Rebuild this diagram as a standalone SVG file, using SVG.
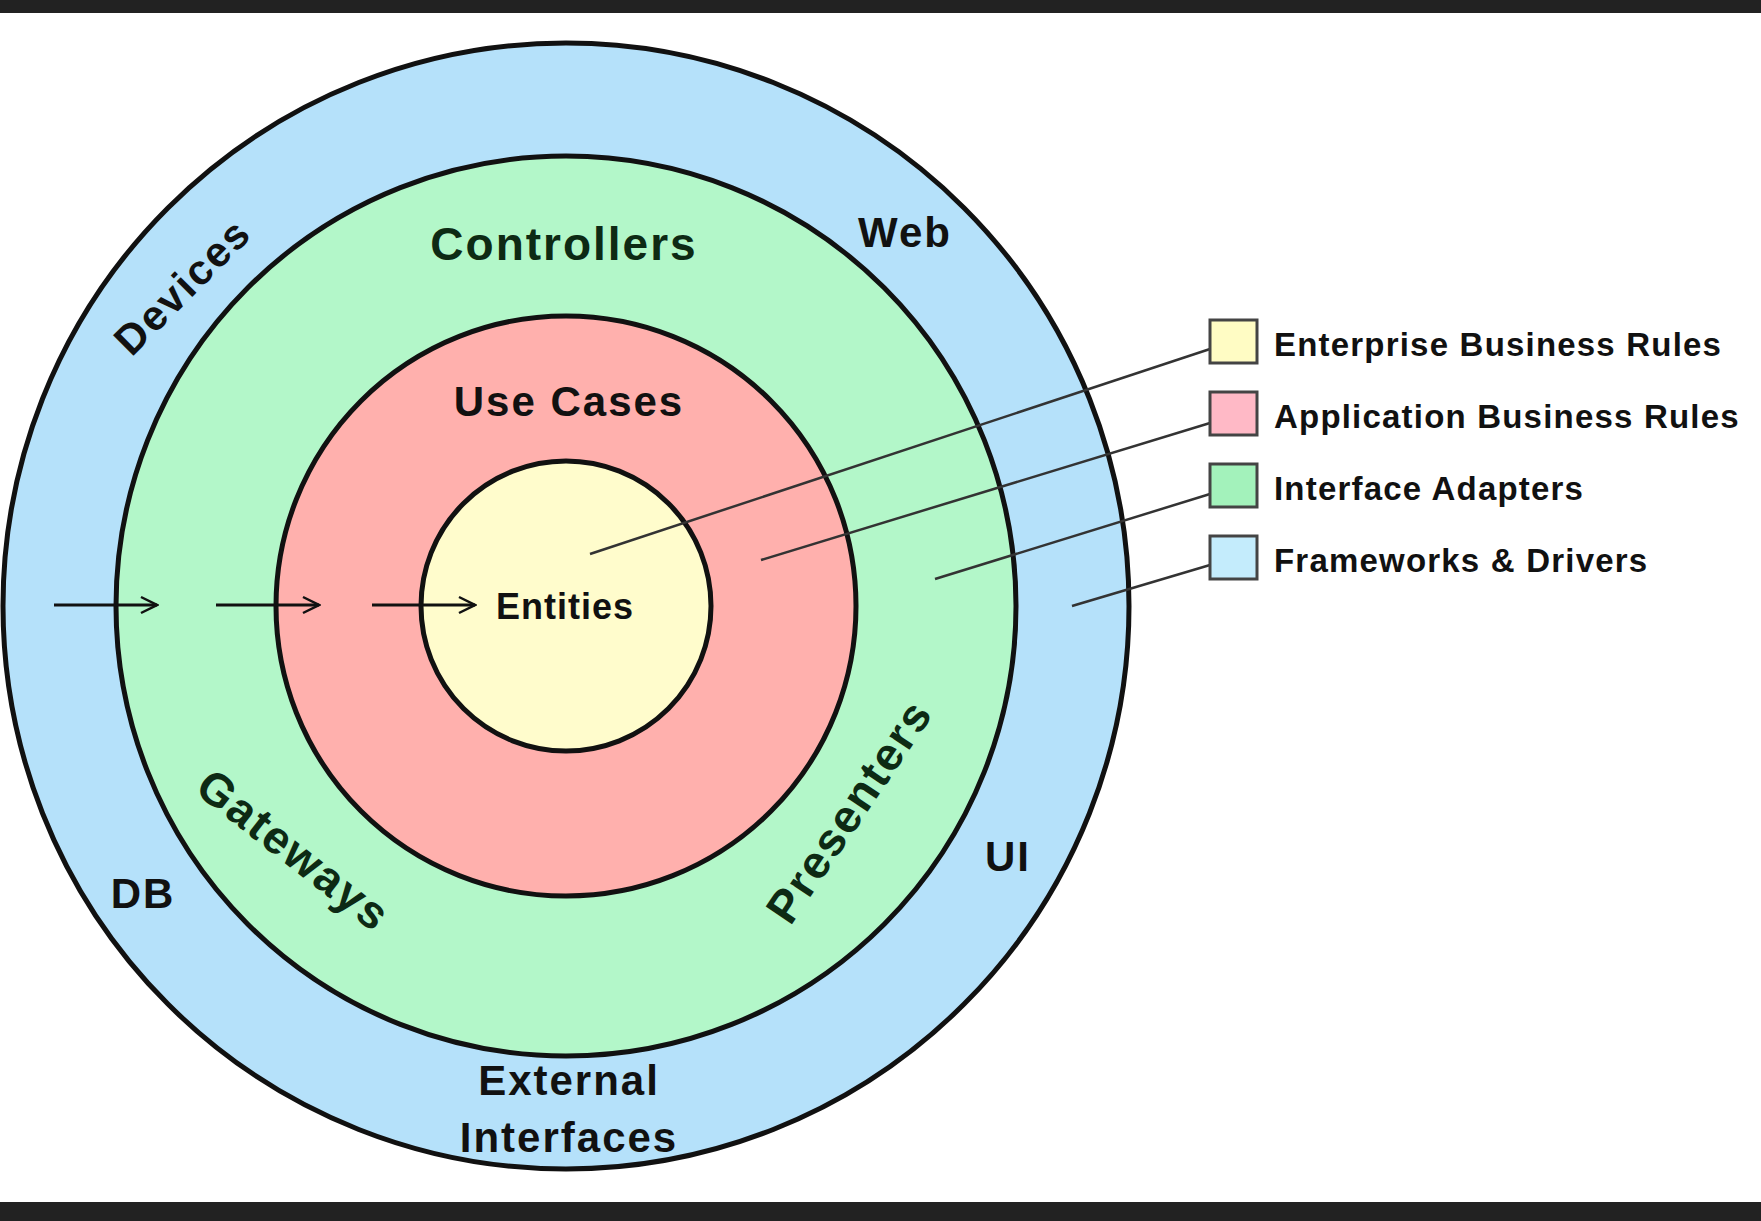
<svg xmlns="http://www.w3.org/2000/svg" width="1761" height="1221" viewBox="0 0 1761 1221">
<defs>
<marker id="ah" viewBox="0 0 20 20" refX="18" refY="10" markerWidth="20" markerHeight="20" markerUnits="userSpaceOnUse" orient="auto"><path d="M2,2 L18,10 L2,18" fill="none" stroke="#111" stroke-width="2.5"/></marker>
</defs>
<style>
.ring{stroke:#111;stroke-width:5}
.t{font-family:"Liberation Sans",Arial,sans-serif;font-weight:bold;fill:#111;text-anchor:middle;letter-spacing:2px}
.tg{font-family:"Liberation Sans",Arial,sans-serif;font-weight:bold;fill:#0d2a14;text-anchor:middle;letter-spacing:2px}
.lg{font-family:"Liberation Sans",Arial,sans-serif;font-weight:bold;fill:#111;font-size:33px;letter-spacing:1.2px}
.box{stroke:#444;stroke-width:3}
.ld{stroke:#333;stroke-width:2.5;fill:none}
.ar{stroke:#111;stroke-width:3;marker-end:url(#ah)}
</style>
<rect width="1761" height="1221" fill="#fff"/>
<rect width="1761" height="13" fill="#222"/>
<rect y="1202" width="1761" height="19" fill="#222"/>
<g id="frameworks"><circle class="ring" cx="566" cy="606" r="563" fill="#b5e1fa"/></g>
<g id="adapters"><circle class="ring" cx="566" cy="606" r="450" fill="#b3f7c9"/></g>
<g id="usecases"><circle class="ring" cx="566" cy="606" r="290" fill="#ffb0ad"/></g>
<g id="entities"><circle class="ring" cx="566" cy="606" r="145" fill="#fffccc"/></g>
<g id="labels">
<text class="tg" x="564" y="260" font-size="46">Controllers</text>
<text class="t" x="569" y="416" font-size="42" fill="#2a0a0a">Use Cases</text>
<text class="t" x="565" y="619" font-size="36" style="letter-spacing:1px">Entities</text>
<text class="t" x="905" y="247" font-size="42">Web</text>
<text class="t" font-size="42" transform="translate(182,286) rotate(-45)" y="15">Devices</text>
<text class="tg" font-size="46" transform="translate(294,850) rotate(38)" y="16">Gateways</text>
<text class="tg" font-size="46" transform="translate(849,811) rotate(-56)" y="16">Presenters</text>
<text class="t" x="1008" y="871" font-size="42">UI</text>
<text class="t" x="143" y="908" font-size="42">DB</text>
<text class="t" x="569" y="1095" font-size="42">External</text>
<text class="t" x="569" y="1152" font-size="42">Interfaces</text>
</g>
<g id="connectors">
<line class="ar" x1="54" y1="605" x2="157" y2="605"/>
<line class="ar" x1="216" y1="605" x2="319" y2="605"/>
<line class="ar" x1="372" y1="605" x2="475" y2="605"/>
<line class="ld" x1="590" y1="554" x2="1210" y2="349"/>
<line class="ld" x1="761" y1="560" x2="1210" y2="423"/>
<line class="ld" x1="935" y1="579" x2="1210" y2="494"/>
<line class="ld" x1="1072" y1="606" x2="1210" y2="565"/>
</g>
<g id="legend">
<rect class="box" x="1210" y="320" width="47" height="43" fill="#fffcc4"/>
<text class="lg" x="1274" y="356">Enterprise Business Rules</text>
<rect class="box" x="1210" y="392" width="47" height="43" fill="#ffb9c6"/>
<text class="lg" x="1274" y="428">Application Business Rules</text>
<rect class="box" x="1210" y="464" width="47" height="43" fill="#a3f2bb"/>
<text class="lg" x="1274" y="500">Interface Adapters</text>
<rect class="box" x="1210" y="536" width="47" height="43" fill="#c4ecfc"/>
<text class="lg" x="1274" y="572">Frameworks &amp; Drivers</text>
</g>
</svg>
